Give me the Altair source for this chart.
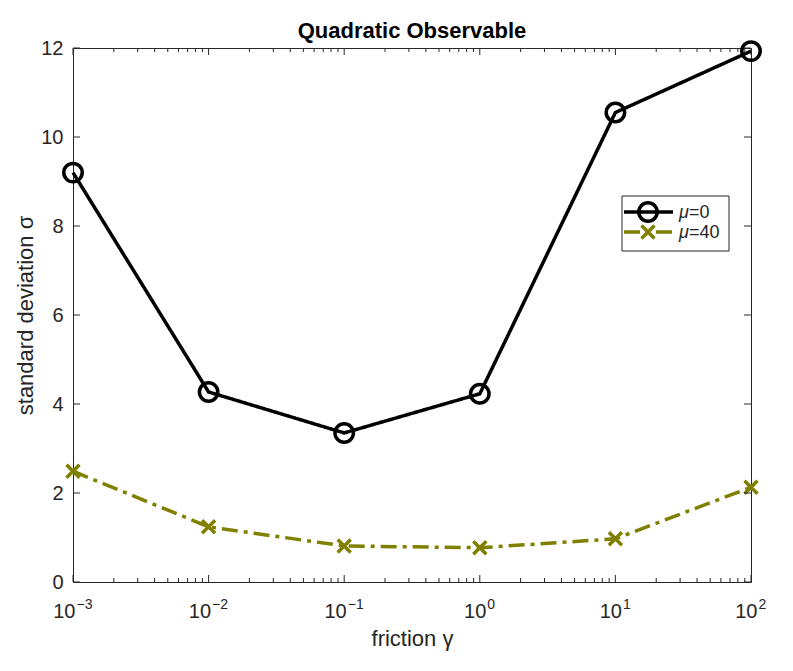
import altair as alt
import pandas as pd

# ---- data -------------------------------------------------------------
friction = [1e-3, 1e-2, 1e-1, 1e0, 1e1, 1e2]
sigma_mu0 = [9.20, 4.27, 3.35, 4.23, 10.55, 11.93]
sigma_mu40 = [2.49, 1.24, 0.81, 0.77, 0.97, 2.13]
series_names = ["μ=0", "μ=40"]
series_symbols = ["μ", "μ"]
series_suffix = ["=0", "=40"]
series_colors = ["#000000", "#808000"]
chart_title = ["Quadratic Observable"]

y_ticks = [0, 2, 4, 6, 8, 10, 12]
decade_exponents = [-3, -2, -1, 0, 1, 2]
minor_multipliers = [2, 3, 4, 5, 6, 7, 8, 9]

# ---- styling ----------------------------------------------------------
W, H = 678, 534
AXIS = "#262626"
FONT = "Liberation Sans"
X_PATH = "M-1,-1L1,1M1,-1L-1,1"

data = pd.DataFrame({
    "friction": friction * 2,
    "sigma": sigma_mu0 + sigma_mu40,
    "series": [series_names[0]] * len(friction) + [series_names[1]] * len(friction),
})

decades = pd.DataFrame({
    "friction": [10.0 ** e for e in decade_exponents],
    "base": ["10"] * len(decade_exponents),
    "exp": [str(e).replace("-", "\u2212") for e in decade_exponents],
    "neg": [e < 0 for e in decade_exponents],
})
minors = pd.DataFrame({
    "friction": [m * 10.0 ** e for e in decade_exponents[:-1] for m in minor_multipliers]
})
yticks = pd.DataFrame({"sigma": y_ticks})

x_scale = alt.Scale(type="log", domain=[1e-3, 1e2], nice=False)
y_scale = alt.Scale(domain=[0, 12], nice=False)

color = alt.Color("series:N", scale=alt.Scale(domain=series_names, range=series_colors), legend=None)
dash = alt.StrokeDash("series:N",
                      scale=alt.Scale(domain=series_names, range=[[1, 0], [16, 6, 4, 6]]),
                      legend=None)
shape = alt.Shape("series:N", scale=alt.Scale(domain=series_names, range=["circle", X_PATH]), legend=None)
size = alt.Size("series:N", scale=alt.Scale(domain=series_names, range=[340, 170]), legend=None)

x_axis = alt.Axis(title="friction γ", labels=False, ticks=False, domain=False, grid=False,
                  titleFont=FONT, titleFontSize=22, titleFontWeight="normal",
                  titleColor=AXIS, titleY=63, titleBaseline="alphabetic")
y_axis = alt.Axis(title="standard deviation σ", values=y_ticks, ticks=False, tickSize=0,
                  domain=False, grid=False, labelFont=FONT, labelFontSize=20,
                  labelColor=AXIS, labelPadding=10,
                  titleFont=FONT, titleFontSize=22, titleFontWeight="normal",
                  titleColor=AXIS, titleX=-41, titleY=H / 2,
                  titleBaseline="alphabetic", titleAlign="center")
X = alt.X("friction:Q", scale=x_scale, axis=x_axis)
Y = alt.Y("sigma:Q", scale=y_scale, axis=y_axis)

# ---- series -----------------------------------------------------------
lines = alt.Chart(data).mark_line(strokeWidth=3.5).encode(
    x=X, y=Y, color=color, strokeDash=dash)
points = alt.Chart(data).mark_point(filled=False, strokeWidth=3.5, opacity=1).encode(
    x=X, y=Y, color=color, shape=shape, size=size)

# ---- inward ticks on the box ------------------------------------------
tick_style = dict(color=AXIS, strokeWidth=1)
x_major_bottom = alt.Chart(decades).mark_rule(**tick_style).encode(
    x=X, y=alt.value(H), y2=alt.value(H - 7))
x_major_top = alt.Chart(decades).mark_rule(**tick_style).encode(
    x=X, y=alt.value(0), y2=alt.value(7))
x_minor_bottom = alt.Chart(minors).mark_rule(**tick_style).encode(
    x=X, y=alt.value(H), y2=alt.value(H - 4))
x_minor_top = alt.Chart(minors).mark_rule(**tick_style).encode(
    x=X, y=alt.value(0), y2=alt.value(4))
y_left = alt.Chart(yticks).mark_rule(**tick_style).encode(
    y=Y, x=alt.value(0), x2=alt.value(7))
y_right = alt.Chart(yticks).mark_rule(**tick_style).encode(
    y=Y, x=alt.value(W), x2=alt.value(W - 7))

# ---- decade tick labels 10^n ------------------------------------------
label_layers = []
for is_neg, base_dx in [(True, 2.5), (False, 6.5)]:
    sub = alt.Chart(decades).transform_filter(
        alt.datum.neg if is_neg else ~alt.datum.neg)
    label_layers.append(sub.mark_text(
        align="right", baseline="alphabetic", dx=base_dx, font=FONT, fontSize=20, color=AXIS
    ).encode(x=X, y=alt.value(H + 36), text="base:N"))
    label_layers.append(sub.mark_text(
        align="left", baseline="alphabetic", dx=base_dx + 1, font=FONT, fontSize=14, color=AXIS
    ).encode(x=X, y=alt.value(H + 27), text="exp:N"))

# ---- title ------------------------------------------------------------
title = alt.Chart(pd.DataFrame({"title": chart_title})).mark_text(
    align="center", baseline="alphabetic", font=FONT, fontSize=22, fontWeight="bold",
    color="#000000"
).encode(x=alt.value(W / 2), y=alt.value(-10), text="title:N")

# ---- legend -----------------------------------------------------------
legend_layers = [
    alt.Chart(pd.DataFrame({"box": [0]})).mark_rect(
        fill="white", stroke=AXIS, strokeWidth=1
    ).encode(x=alt.value(549), x2=alt.value(656), y=alt.value(148), y2=alt.value(203))
]
for name, sym, suffix, row_y in zip(series_names, series_symbols, series_suffix, [164, 184]):
    entry = alt.Chart(pd.DataFrame({"series": [name], "sym": [sym], "suffix": [suffix]}))
    legend_layers += [
        entry.mark_rule(strokeWidth=3.5).encode(
            x=alt.value(551), x2=alt.value(600), y=alt.value(row_y), color=color, strokeDash=dash),
        entry.mark_point(filled=False, strokeWidth=3.5, opacity=1).encode(
            x=alt.value(575), y=alt.value(row_y), color=color, shape=shape, size=size),
        entry.mark_text(align="left", baseline="middle", font=FONT, fontSize=18,
                        fontStyle="italic", color=AXIS).encode(
            x=alt.value(606), y=alt.value(row_y + 1), text="sym:N"),
        entry.mark_text(align="left", baseline="middle", font=FONT, fontSize=18, color=AXIS).encode(
            x=alt.value(616), y=alt.value(row_y + 1), text="suffix:N"),
    ]

chart = alt.layer(
    lines, points,
    x_major_bottom, x_major_top, x_minor_bottom, x_minor_top, y_left, y_right,
    *label_layers, title, *legend_layers,
).properties(
    width=W, height=H,
    autosize=alt.AutoSizeParams(type="none"),
    padding={"left": 73, "top": 48, "right": 42, "bottom": 89},
).configure_view(stroke=AXIS, strokeWidth=1)

chart.save("out.html", embed_options={"renderer": "svg", "actions": False})
